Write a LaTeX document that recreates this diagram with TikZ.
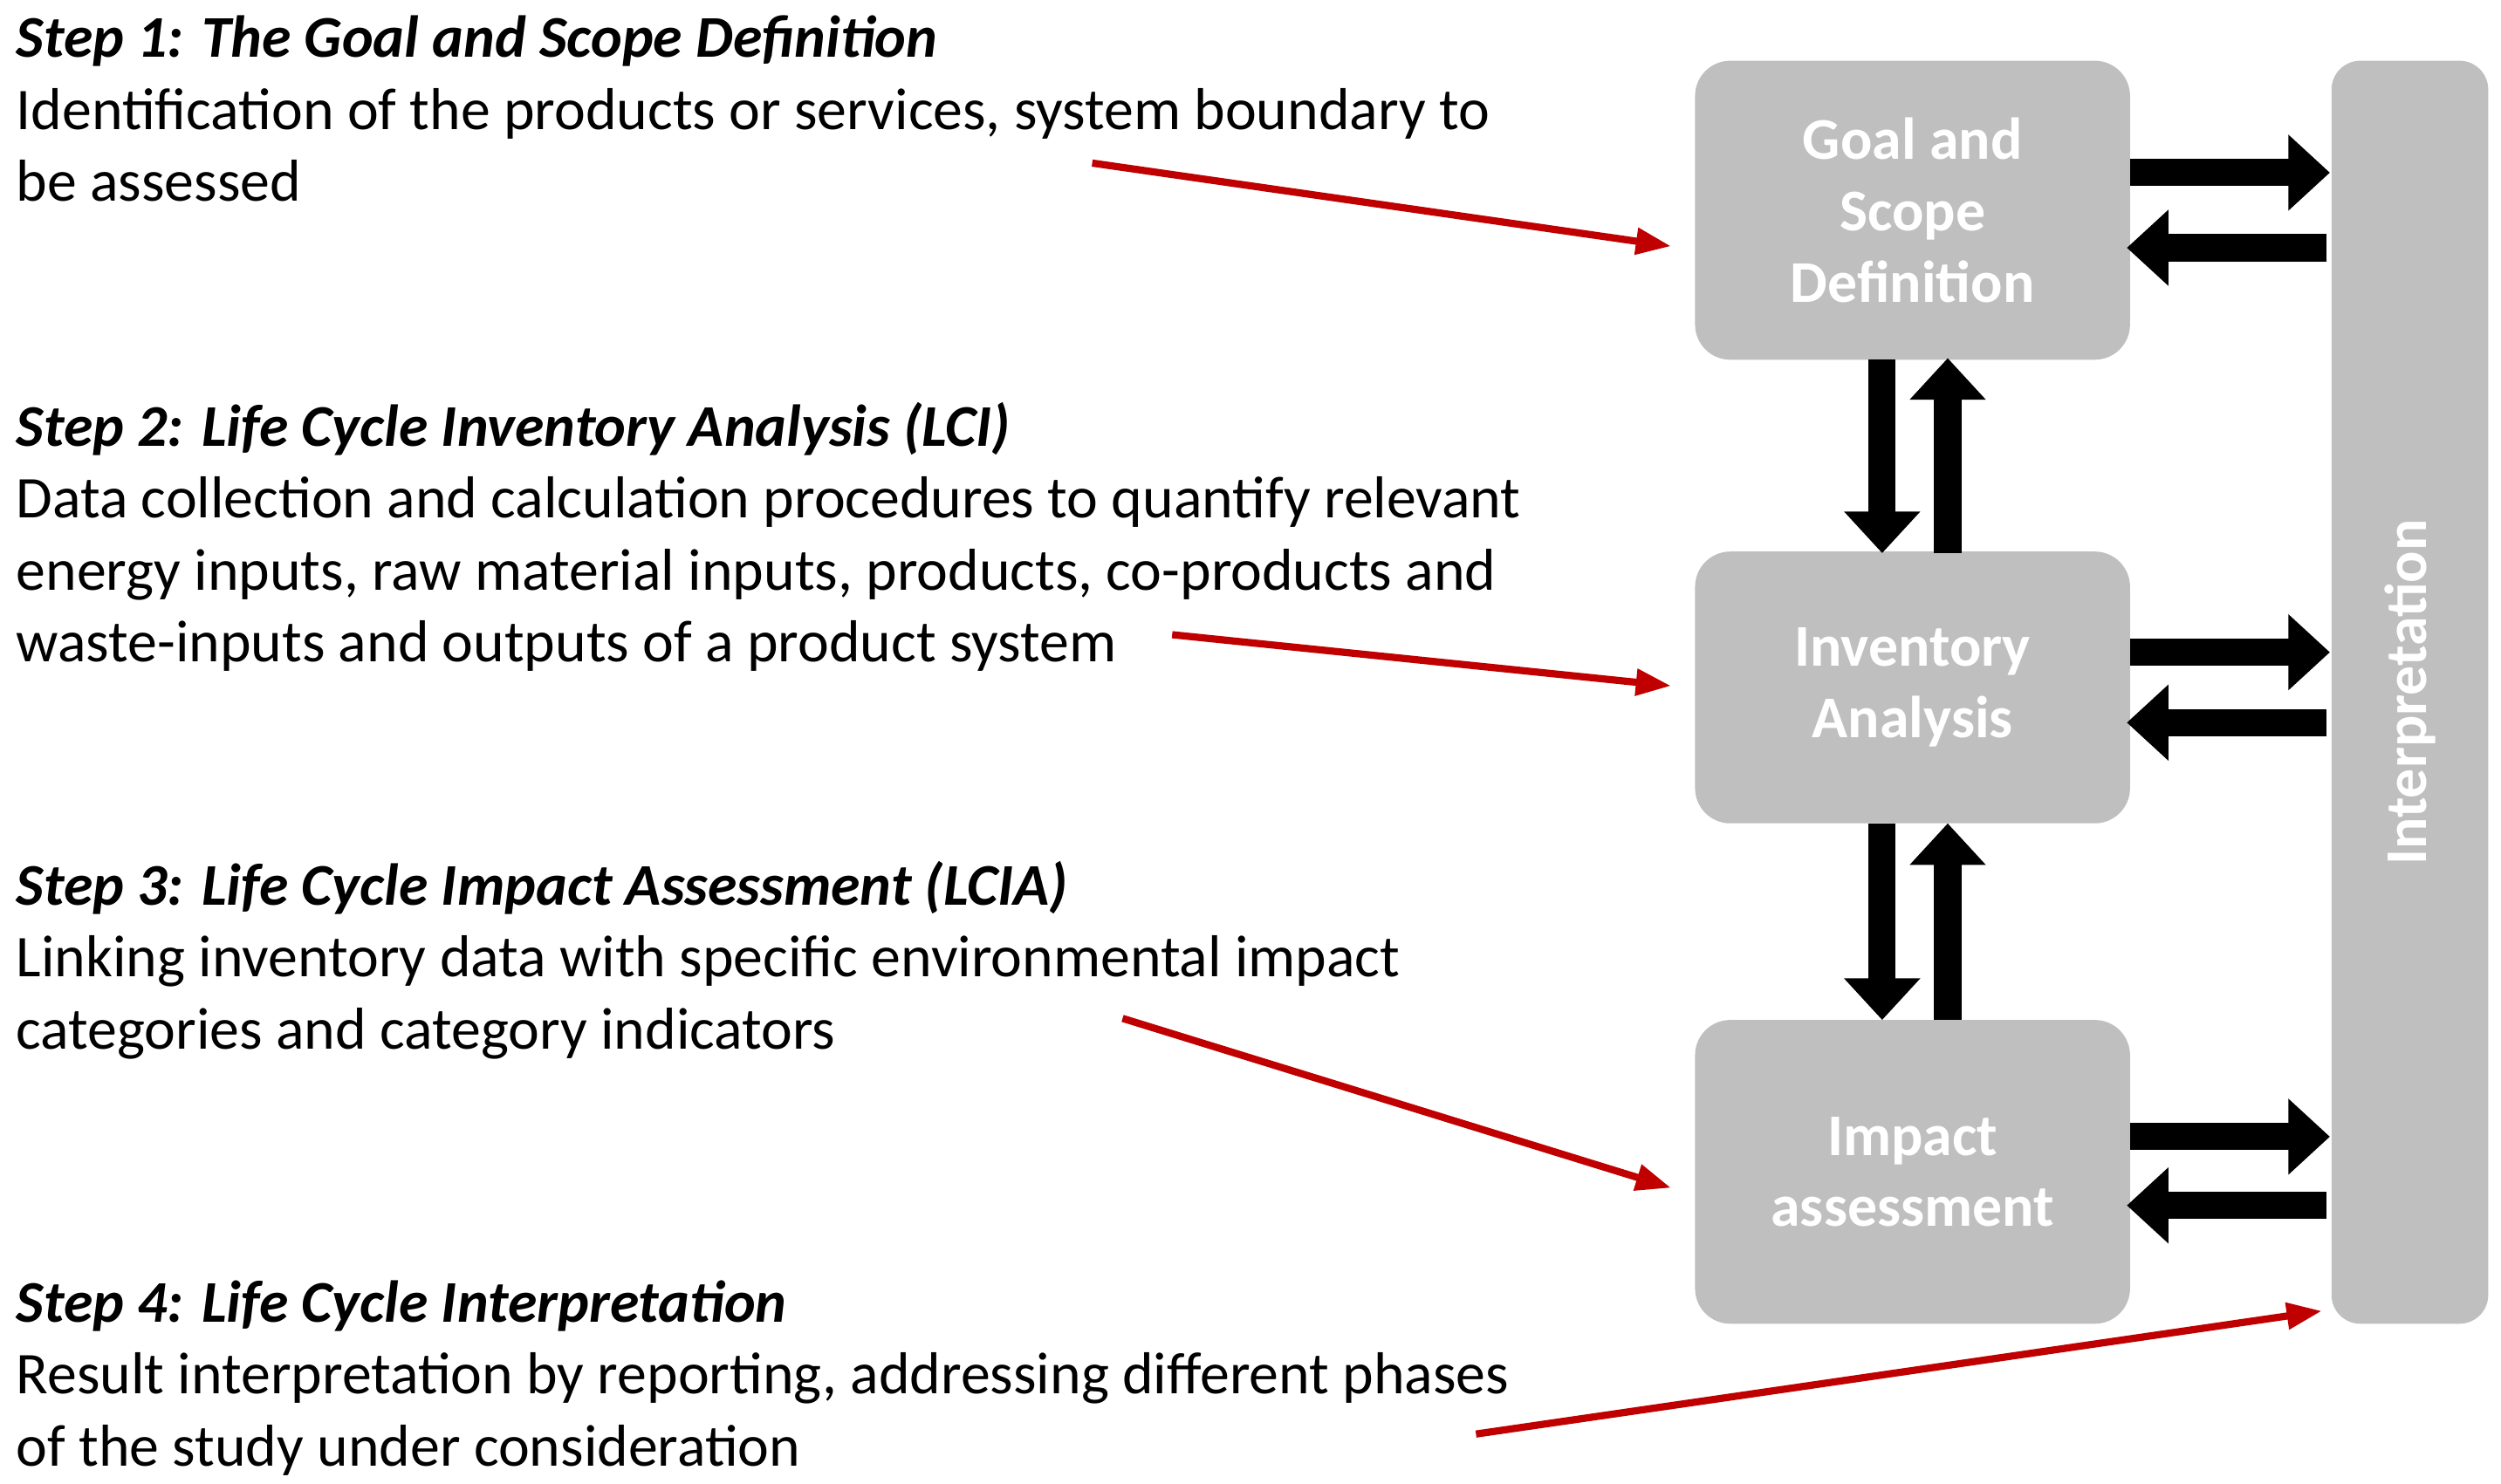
\documentclass[tikz,border=0pt]{standalone}
\usepackage{fontspec}
\setmainfont{Carlito}
\usetikzlibrary{arrows.meta}
\definecolor{boxg}{HTML}{BFBFBF}
\definecolor{redA}{HTML}{C00000}
\begin{document}
\begin{tikzpicture}[x=1pt,y=-1pt,
 box/.style={fill=boxg,rounded corners=22pt,draw=none,text=white,font=\fontsize{37}{44.5}\selectfont\bfseries,align=center},
 txt/.style={anchor=base west,inner sep=0,font=\fontsize{37}{45}\selectfont,align=left},
 ttl/.style={txt,font=\fontsize{37}{45}\selectfont\bfseries\itshape},
 fat/.style={line width=17pt,-{Triangle[width=46pt,length=26pt]}},
 red/.style={draw=redA,line width=4.5pt,-{Triangle[width=16pt,length=22pt]}}]
\useasboundingbox (0,0) rectangle (1564,928);
% boxes
\node[box,minimum width=272pt,minimum height=187pt] (g) at (1196,131.5) {Goal and\\Scope\\Definition};
\node[box,minimum width=272pt,minimum height=170pt] (i) at (1196,430) {Inventory\\Analysis};
\node[box,minimum width=272pt,minimum height=190pt] (m) at (1196,733) {Impact\\assessment};
\node[fill=boxg,rounded corners=18pt,minimum width=98pt,minimum height=790pt] (p) at (1507,433) {};
\node[rotate=90,text=white,font=\fontsize{37}{40}\selectfont\bfseries] (pt) at (1507,433) {Interpretation};
% black arrows
\foreach \y in {108,408,711}{\coordinate (a\y) at (1332,\y);\coordinate (b\y) at (1457,\y);\draw[fat] (a\y) -- (b\y);}
\foreach \y in {155,452,754}{\coordinate (c\y) at (1455,\y);\coordinate (d\y) at (1330,\y);\draw[fat] (c\y) -- (d\y);}
\coordinate (v1) at (1177,225);\coordinate (v2) at (1177,346);\draw[fat] (v1)--(v2);
\coordinate (v3) at (1218,346);\coordinate (v4) at (1218,224);\draw[fat] (v3)--(v4);
\coordinate (v5) at (1177,515);\coordinate (v6) at (1177,638);\draw[fat] (v5)--(v6);
\coordinate (v7) at (1218,638);\coordinate (v8) at (1218,515);\draw[fat] (v7)--(v8);
% texts
\node[ttl] (t1) at (10,36) {Step 1: The Goal and Scope Definition};
\node[txt] (d1) at (10,126) {Identification of the products or services, system boundary to\\be assessed};
\node[ttl] (t2) at (10,279) {Step 2: Life Cycle Inventory Analysis (LCI)};
\node[txt] (d2) at (10,414) {Data collection and calculation procedures to quantify relevant\\energy inputs, raw material inputs, products, co-products and\\waste-inputs and outputs of a product system};
\node[ttl] (t3) at (10,566) {Step 3: Life Cycle Impact Assessment (LCIA)};
\node[txt] (d3) at (10,656) {Linking inventory data with specific environmental impact\\categories and category indicators};
\node[ttl] (t4) at (10,827) {Step 4: Life Cycle Interpretation};
\node[txt] (d4) at (10,917) {Result interpretation by reporting, addressing different phases\\of the study under consideration};
% red arrows
\coordinate (r1) at (683,102);\coordinate (r1e) at (1045,154);\draw[red] (r1)--(r1e);
\coordinate (r2) at (733,397);\coordinate (r2e) at (1045,429);\draw[red] (r2)--(r2e);
\coordinate (r3) at (702,637);\coordinate (r3e) at (1045,743);\draw[red] (r3)--(r3e);
\coordinate (r4) at (923,897);\coordinate (r4e) at (1452,820);\draw[red] (r4)--(r4e);
\end{tikzpicture}
\end{document}
